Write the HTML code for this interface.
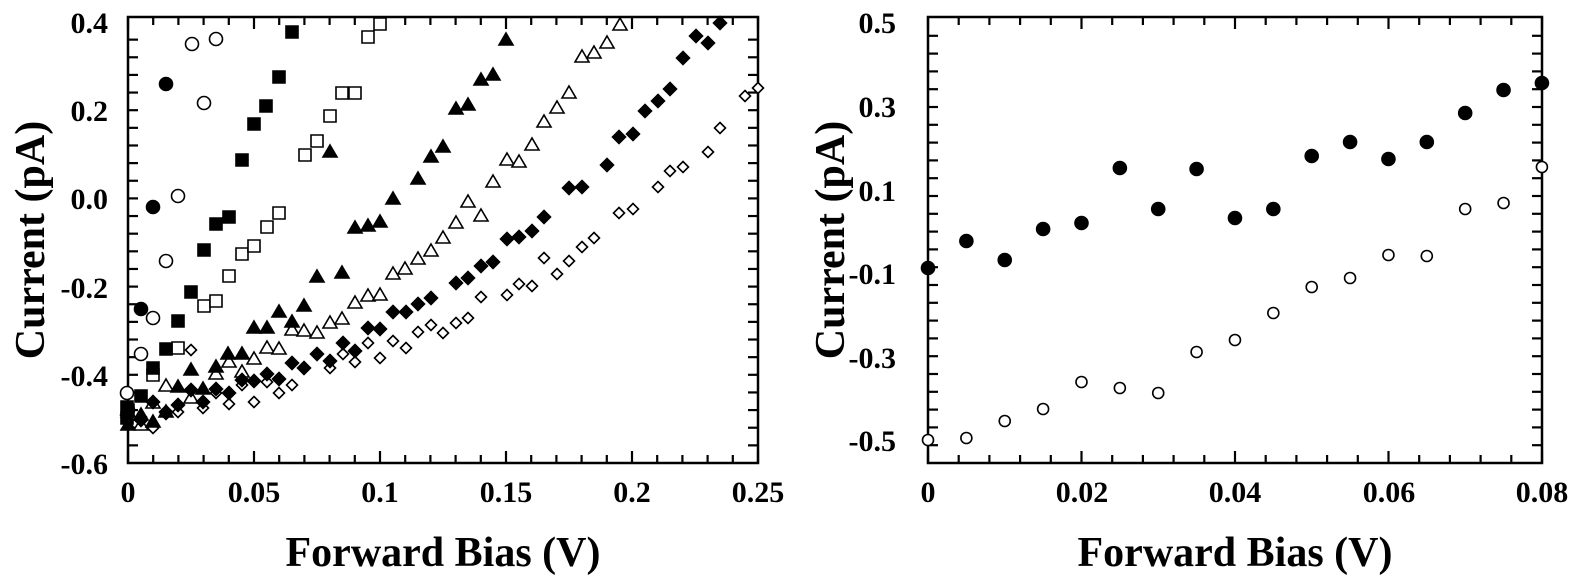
<!DOCTYPE html>
<html><head><meta charset="utf-8"><style>
html,body{margin:0;padding:0;background:#fff;}
svg{display:block;}
svg text{font-family:"Liberation Serif","Times New Roman","Nimbus Roman","DejaVu Serif Condensed","DejaVu Serif",serif;font-weight:bold;fill:#000;}
</style></head><body>
<svg width="1575" height="579" viewBox="0 0 1575 579" xmlns="http://www.w3.org/2000/svg">
<defs>
<path id="sq" d="M-6,-6h12v12h-12z"/>
<path id="tr" d="M0,-7L7,5H-7z"/>
<path id="di" d="M0,-6.5L6.5,0L0,6.5L-6.5,0z"/>
<path id="dis" d="M0,-5.5L5.5,0L0,5.5L-5.5,0z"/>
</defs>
<g id="frames" fill="none" stroke="#000" stroke-width="2.5">
<rect x="128" y="17" width="630" height="446"/>
<rect x="928" y="17" width="614" height="446"/>
</g>
<g id="ticks" stroke="#000" stroke-width="2.2"></g>
<g font-size="30" text-anchor="end">
<text x="108" y="33">0.4</text>
<text x="108" y="121">0.2</text>
<text x="108" y="209">0.0</text>
<text x="108" y="298">-0.2</text>
<text x="108" y="386">-0.4</text>
<text x="108" y="474">-0.6</text>
<text x="896" y="33">0.5</text>
<text x="896" y="117">0.3</text>
<text x="896" y="201">0.1</text>
<text x="896" y="284">-0.1</text>
<text x="896" y="368">-0.3</text>
<text x="896" y="451">-0.5</text>
</g>
<g font-size="30" text-anchor="middle">
<text x="128" y="502">0</text>
<text x="254" y="502">0.05</text>
<text x="380" y="502">0.1</text>
<text x="506" y="502">0.15</text>
<text x="632" y="502">0.2</text>
<text x="758" y="502">0.25</text>
<text x="928" y="502">0</text>
<text x="1082" y="502">0.02</text>
<text x="1235" y="502">0.04</text>
<text x="1389" y="502">0.06</text>
<text x="1542" y="502">0.08</text>
</g>
<g font-size="42" text-anchor="middle">
<text x="443" y="566">Forward Bias (V)</text>
<text x="1235" y="566">Forward Bias (V)</text>
<text transform="translate(44,240) rotate(-90)">Current (pA)</text>
<text transform="translate(844,240) rotate(-90)">Current (pA)</text>
</g>
<g id="pts"></g>
</svg>
<script>
(function(){
var t=document.getElementById('ticks'),s="";
function L(a,b,c,d){s+='<line x1="'+a+'" y1="'+b+'" x2="'+c+'" y2="'+d+'"/>';}
for(var i=0;i<=25;i++){var x=128+i*25.2;var len=(i%5==0)?12:8;L(x,463,x,463-len);L(x,17,x,17+len);}
for(var i=1;i<25;i++){var y=463-i*17.64;L(128,y,138,y);L(758,y,748,y);}
for(var i=0;i<=20;i++){var x=928+i*30.7;var len=(i%5==0)?12:8;L(x,463,x,463-len);L(x,17,x,17+len);}
for(var i=1;i<25;i++){var y=463-i*17.8;if(y<20)break;L(928,y,938,y);L(1542,y,1532,y);}
t.innerHTML=s;
var p="";
function C(x,y,r,f){p+='<circle cx="'+x+'" cy="'+y+'" r="'+r+'" fill="'+(f?'#000':'#fff')+'" stroke="#000" stroke-width="1.6"/>';}
function U(id,x,y,f){p+='<use href="#'+id+'" x="'+x+'" y="'+y+'" fill="'+(f?'#000':'#fff')+'" stroke="#000" stroke-width="1.6"/>';}
var dio=[[128,420],[141,417],[153,428],[166,414],[178,412],[191,350],[203,408],[216,393],[229,404],[242,385],[254,402],[267,382],[279,393],[292,385],[330,368],[343,354],[355,362],[368,343],[380,358],[393,341],[406,348],[418,332],[431,325],[443,333],[456,323],[468,318],[481,297],[507,295],[519,284],[532,286],[544,258],[557,274],[569,261],[582,247],[594,238],[619,213],[633,209],[658,187],[670,171],[683,167],[708,152],[720,128],[745,96],[758,88]];
dio.forEach(function(a){U('dis',a[0],a[1],0);});
var tro=[[128,412],[141,425],[153,403],[166,386],[191,398],[216,374],[229,362],[242,372],[254,359],[267,348],[279,349],[292,330],[304,331],[317,333],[330,323],[342,319],[355,303],[368,296],[380,295],[393,274],[405,269],[418,259],[431,251],[443,238],[456,223],[468,202],[481,216],[493,182],[507,160],[519,162],[532,145],[544,122],[557,108],[569,93],[582,57],[594,53],[607,43],[620,25]];
tro.forEach(function(a){U('tr',a[0],a[1],0);});
var sqo=[[128,410],[153,375],[178,348],[204,306],[216,301],[229,276],[242,254],[254,246],[267,227],[279,213],[305,155],[317,141],[330,116],[342,93],[355,93],[368,37],[380,24]];
sqo.forEach(function(a){U('sq',a[0],a[1],0);});
var cio=[[127,393],[141,354],[153,318],[166,261],[178,196],[192,44],[204,103],[216,39]];
cio.forEach(function(a){C(a[0],a[1],6.5,0);});
var dif=[[127,415],[141,420],[153,402],[166,412],[178,405],[191,390],[203,402],[216,389],[229,393],[242,380],[254,381],[267,374],[279,379],[292,363],[304,368],[317,354],[330,361],[343,343],[355,351],[368,328],[380,329],[393,312],[406,312],[418,304],[431,298],[456,283],[468,278],[481,266],[493,262],[507,239],[519,237],[532,231],[544,217],[569,188],[582,187],[607,165],[619,137],[633,134],[645,111],[658,101],[670,89],[683,58],[696,36],[708,43],[720,23]];
dif.forEach(function(a){U('di',a[0],a[1],1);});
var trf=[[128,425],[141,415],[153,422],[166,412],[178,387],[191,370],[203,389],[216,367],[228,354],[242,354],[254,328],[267,328],[279,312],[292,322],[304,306],[317,277],[330,152],[342,273],[355,228],[368,226],[380,222],[393,199],[418,179],[431,157],[443,147],[456,109],[468,105],[481,80],[493,75],[506,40]];
trf.forEach(function(a){U('tr',a[0],a[1],1);});
var sqf=[[127,407],[127,418],[141,396],[153,368],[166,349],[178,321],[191,292],[204,250],[216,224],[229,217],[242,160],[254,124],[266,106],[279,77],[292,32]];
sqf.forEach(function(a){U('sq',a[0],a[1],1);});
var cif=[[128,410],[141,309],[153,207],[166,84]];
cif.forEach(function(a){C(a[0],a[1],6.5,1);});
var ro=[440,438,421,409,382,388,393,352,340,313,287,278,255,256,209,203,167];
ro.forEach(function(y,i){C(928+i*38.37,y,5.5,0);});
var rf=[268,241,260,229,223,168,209,169,218,209,156,142,159,142,113,90,83];
rf.forEach(function(y,i){C(928+i*38.37,y,6.5,1);});
document.getElementById('pts').innerHTML=p;
})();
</script>
</body></html>
